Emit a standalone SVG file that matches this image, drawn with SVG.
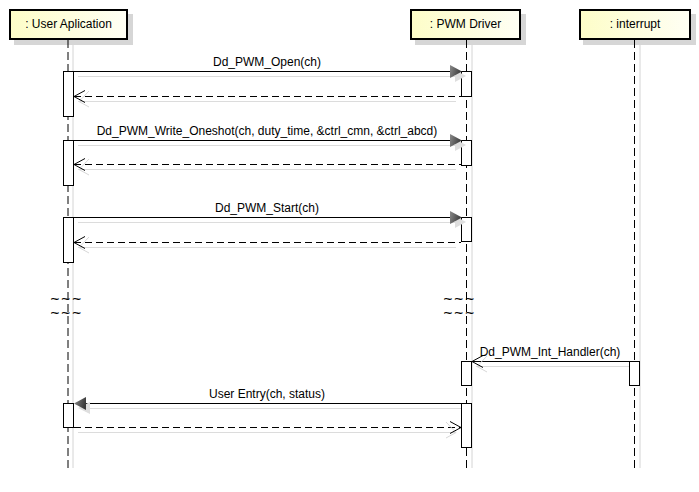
<svg xmlns="http://www.w3.org/2000/svg" width="699" height="492" viewBox="0 0 699 492">
  <defs>
    <linearGradient id="headFill" x1="0" y1="0" x2="1" y2="0">
      <stop offset="0" stop-color="#fdfdc8"/>
      <stop offset="1" stop-color="#fffff4"/>
    </linearGradient>
    <linearGradient id="headArrow" x1="0" y1="0" x2="1" y2="0.3">
      <stop offset="0" stop-color="#8a8a8a"/>
      <stop offset="1" stop-color="#3a3a3a"/>
    </linearGradient>
  </defs>
  <style>
    text { font-family: "Liberation Sans", Arial, sans-serif; font-size: 12px; fill: #000; }
    .lbl { text-anchor: middle; }
    .hshadow { fill: #d6d6d6; }
    .head { fill: url(#headFill); stroke: #000; stroke-width: 2; }
    .life { stroke: #000; stroke-width: 1; stroke-dasharray: 8 4; fill: none; }
    .lifeShadow { stroke: #d4d4d4; stroke-width: 1; fill: none; }
    .act { fill: #fff; stroke: #000; stroke-width: 1; }
    .msg { stroke: #000; stroke-width: 1; fill: none; }
    .ret { stroke: #000; stroke-width: 1; fill: none; stroke-dasharray: 7 4; }
    .shadow { stroke: #dcdcdc; stroke-width: 1; fill: none; }
    .solidHead { fill: url(#headArrow); stroke: none; }
    .solidHeadShadow { fill: #dedede; stroke: none; }
    .openHead { stroke: #000; stroke-width: 1; fill: none; }
    .openHeadShadow { stroke: #d8d8d8; stroke-width: 1; fill: none; }
    .brk { font-size: 12px; text-anchor: middle; letter-spacing: 2px; stroke: #000; stroke-width: 0.3px; }
  </style>

  <!-- lifeline: User Aplication -->
  <g id="user-application">
    <rect class="hshadow" x="14" y="14" width="119" height="31"/>
    <line class="lifeShadow" x1="73" y1="45" x2="73" y2="468"/>
    <line class="life" x1="68" y1="40" x2="68" y2="468"/>
    <rect class="head" x="10" y="10" width="117" height="29"/>
    <text class="lbl" x="68.5" y="28">: User Aplication</text>
    <rect class="act" x="63.5" y="71.5" width="10" height="45"/>
    <rect class="act" x="63.5" y="140.5" width="10" height="45"/>
    <rect class="act" x="63.5" y="217.5" width="10" height="45"/>
    <rect class="act" x="63.5" y="403.5" width="10" height="24"/>
    <!-- break marks on the lifeline -->
    <g transform="translate(67,0) scale(1.2,1)">
      <text class="brk" x="0" y="303.5">~~~</text>
      <text class="brk" x="0" y="317.5">~~~</text>
    </g>
  </g>

  <!-- lifeline: PWM Driver -->
  <g id="pwm-driver">
    <rect class="hshadow" x="415" y="14" width="111" height="31"/>
    <line class="lifeShadow" x1="472" y1="45" x2="472" y2="468"/>
    <line class="life" x1="466.5" y1="40" x2="466.5" y2="468"/>
    <rect class="head" x="411" y="10" width="109" height="29"/>
    <text class="lbl" x="465.5" y="28">: PWM Driver</text>
    <rect class="act" x="461.5" y="71.5" width="10" height="25"/>
    <rect class="act" x="461.5" y="140.5" width="10" height="25"/>
    <rect class="act" x="461.5" y="217.5" width="10" height="24"/>
    <rect class="act" x="461.5" y="361.5" width="10" height="24"/>
    <rect class="act" x="461.5" y="403.5" width="10" height="44"/>
    <!-- break marks on the lifeline -->
    <g transform="translate(460,0) scale(1.2,1)">
      <text class="brk" x="0" y="303.5">~~~</text>
      <text class="brk" x="0" y="317.5">~~~</text>
    </g>
  </g>

  <!-- lifeline: interrupt -->
  <g id="interrupt">
    <rect class="hshadow" x="583" y="14" width="113" height="31"/>
    <line class="lifeShadow" x1="640" y1="45" x2="640" y2="468"/>
    <line class="life" x1="634.5" y1="40" x2="634.5" y2="468"/>
    <rect class="head" x="580" y="10" width="110" height="29"/>
    <text class="lbl" x="635" y="28">: interrupt</text>
    <rect class="act" x="629.5" y="361.5" width="10" height="24"/>
  </g>

  <!-- messages -->
  <g id="connectors">
    <!-- Dd_PWM_Open -->
    <line class="shadow" x1="78" y1="76.5" x2="455" y2="76.5"/>
    <line class="msg" x1="73.5" y1="71.5" x2="452" y2="71.5"/>
    <polygon class="solidHeadShadow" points="455,70 455,82 466,76"/>
    <polygon class="solidHead" points="450,65 450,78 462,71.5"/>
    <text class="lbl" x="267" y="66">Dd_PWM_Open(ch)</text>
    <line class="shadow" x1="78" y1="101.5" x2="456" y2="101.5"/>
    <line class="ret" x1="74" y1="96.5" x2="461" y2="96.5"/>
    <polyline class="openHeadShadow" points="89,91 79,101.5 89,107"/>
    <polyline class="openHead" points="85,90.5 74,96.5 85,102.5"/>

    <!-- Dd_PWM_Write_Oneshot -->
    <line class="shadow" x1="78" y1="145.5" x2="455" y2="145.5"/>
    <line class="msg" x1="73.5" y1="140.5" x2="452" y2="140.5"/>
    <polygon class="solidHeadShadow" points="455,139 455,151 466,145"/>
    <polygon class="solidHead" points="450,134 450,147 462,140.5"/>
    <text class="lbl" x="267" y="135">Dd_PWM_Write_Oneshot(ch, duty_time, &amp;ctrl_cmn, &amp;ctrl_abcd)</text>
    <line class="shadow" x1="78" y1="169.5" x2="456" y2="169.5"/>
    <line class="ret" x1="74" y1="164.5" x2="461" y2="164.5"/>
    <polyline class="openHeadShadow" points="89,159 79,169.5 89,175"/>
    <polyline class="openHead" points="85,158.5 74,164.5 85,170.5"/>

    <!-- Dd_PWM_Start -->
    <line class="shadow" x1="78" y1="222.5" x2="455" y2="222.5"/>
    <line class="msg" x1="73.5" y1="217.5" x2="452" y2="217.5"/>
    <polygon class="solidHeadShadow" points="455,216 455,228 466,222"/>
    <polygon class="solidHead" points="450,211 450,224 462,217.5"/>
    <text class="lbl" x="267" y="212">Dd_PWM_Start(ch)</text>
    <line class="shadow" x1="78" y1="247.5" x2="456" y2="247.5"/>
    <line class="ret" x1="74" y1="242.5" x2="461" y2="242.5"/>
    <polyline class="openHeadShadow" points="89,237 79,247.5 89,253"/>
    <polyline class="openHead" points="85,236.5 74,242.5 85,248.5"/>

    <!-- Dd_PWM_Int_Handler -->
    <line class="shadow" x1="476" y1="366.5" x2="629" y2="366.5"/>
    <line class="msg" x1="472" y1="361.5" x2="629" y2="361.5"/>
    <polyline class="openHeadShadow" points="487,356 477,366.5 487,372"/>
    <polyline class="openHead" points="483,355.5 472,361.5 483,367.5"/>
    <text class="lbl" x="550" y="356">Dd_PWM_Int_Handler(ch)</text>

    <!-- User Entry -->
    <line class="shadow" x1="86" y1="408.5" x2="461" y2="408.5"/>
    <line class="msg" x1="84" y1="403.5" x2="461" y2="403.5"/>
    <polygon class="solidHeadShadow" points="78,408 90,402 90,414"/>
    <polygon class="solidHead" points="74,403.5 86,397 86,410"/>
    <text class="lbl" x="267" y="398">User Entry(ch, status)</text>
    <line class="shadow" x1="78" y1="432.5" x2="456" y2="432.5"/>
    <line class="ret" x1="74" y1="427.5" x2="461" y2="427.5"/>
    <polyline class="openHeadShadow" points="446,422 456,432.5 446,438"/>
    <polyline class="openHead" points="450,421.5 461,427.5 450,433.5"/>
  </g>
</svg>
